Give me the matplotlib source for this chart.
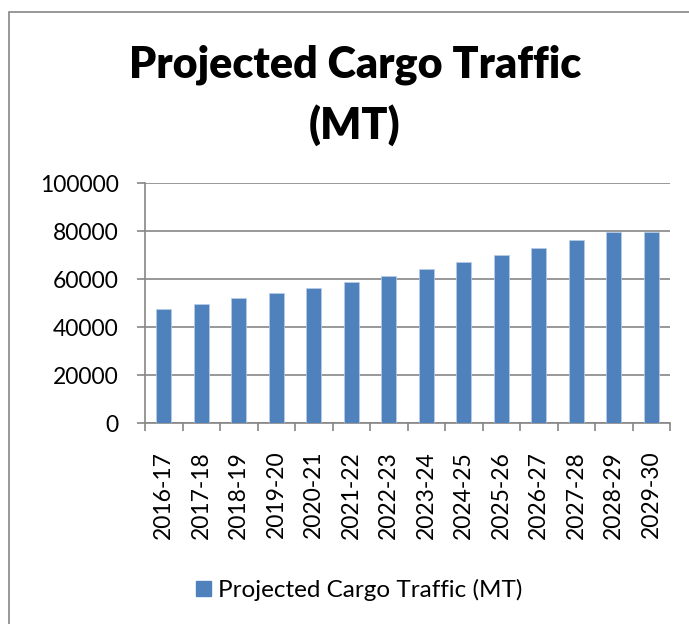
import matplotlib
matplotlib.use("Agg")
import matplotlib.pyplot as plt
from matplotlib.patches import Rectangle, Patch

# Projected cargo traffic by financial year (MT)
years = ["2016-17", "2017-18", "2018-19", "2019-20", "2020-21", "2021-22", "2022-23",
         "2023-24", "2024-25", "2025-26", "2026-27", "2027-28", "2028-29", "2029-30"]
traffic = [47500, 49600, 51900, 54100, 56400, 58900, 61400,
           64100, 67100, 70100, 73100, 76300, 79700, 79700]

bar_color = "#4F81BD"
grid_color = "#868686"

plt.rcParams["font.family"] = ["Lato", "DejaVu Sans"]

fig = plt.figure(figsize=(6.89, 6.24), dpi=100)

# chart frame
fig.patches.append(Rectangle((9 / 689, -0.1), 1.2, 1 - 12 / 624 + 0.1,
                             transform=fig.transFigure, fill=False,
                             edgecolor=grid_color, linewidth=1.2))

ax = fig.add_axes([145 / 689, 1 - 423 / 624, (670 - 145) / 689, (423 - 183) / 624])

x = range(len(years))
ax.bar(x, traffic, width=0.41, color=bar_color, edgecolor="#b9cde5", linewidth=0.5, zorder=3)

ax.set_xlim(-0.5, len(years) - 0.5)
ax.set_ylim(0, 100000)
ax.set_yticks(range(0, 100001, 20000))
ax.tick_params(axis="y", labelsize=16.5, length=6, color=grid_color, width=1.2, pad=13)
ax.yaxis.grid(True, color=grid_color, linewidth=1.2, zorder=0)

ax.set_xticks(list(x))
ax.set_xticklabels(years, rotation=90, fontsize=16.5)
ax.tick_params(axis="x", length=0, pad=20)
ax.set_xticks([i - 0.5 for i in range(len(years) + 1)], minor=True)
ax.tick_params(axis="x", which="minor", length=6, color=grid_color, width=1.2)

for side in ["top", "right"]:
    ax.spines[side].set_visible(False)
for side in ["left", "bottom"]:
    ax.spines[side].set_color(grid_color)
    ax.spines[side].set_linewidth(1.2)

fig.text(0.515, 1 - 65 / 624, "Projected Cargo Traffic", ha="center", va="center",
         fontsize=31, fontweight="heavy")
fig.text(0.515, 1 - 125 / 624, "(MT)", ha="center", va="center",
         fontsize=31, fontweight="heavy")

fig.legend(handles=[Patch(color=bar_color, label="Projected Cargo Traffic (MT)")],
           loc="center", bbox_to_anchor=(359 / 689, 1 - 590 / 624), frameon=False,
           fontsize=17.5, handlelength=0.62, handleheight=0.62, handletextpad=0.3)

fig.savefig("out.png", dpi=100)
